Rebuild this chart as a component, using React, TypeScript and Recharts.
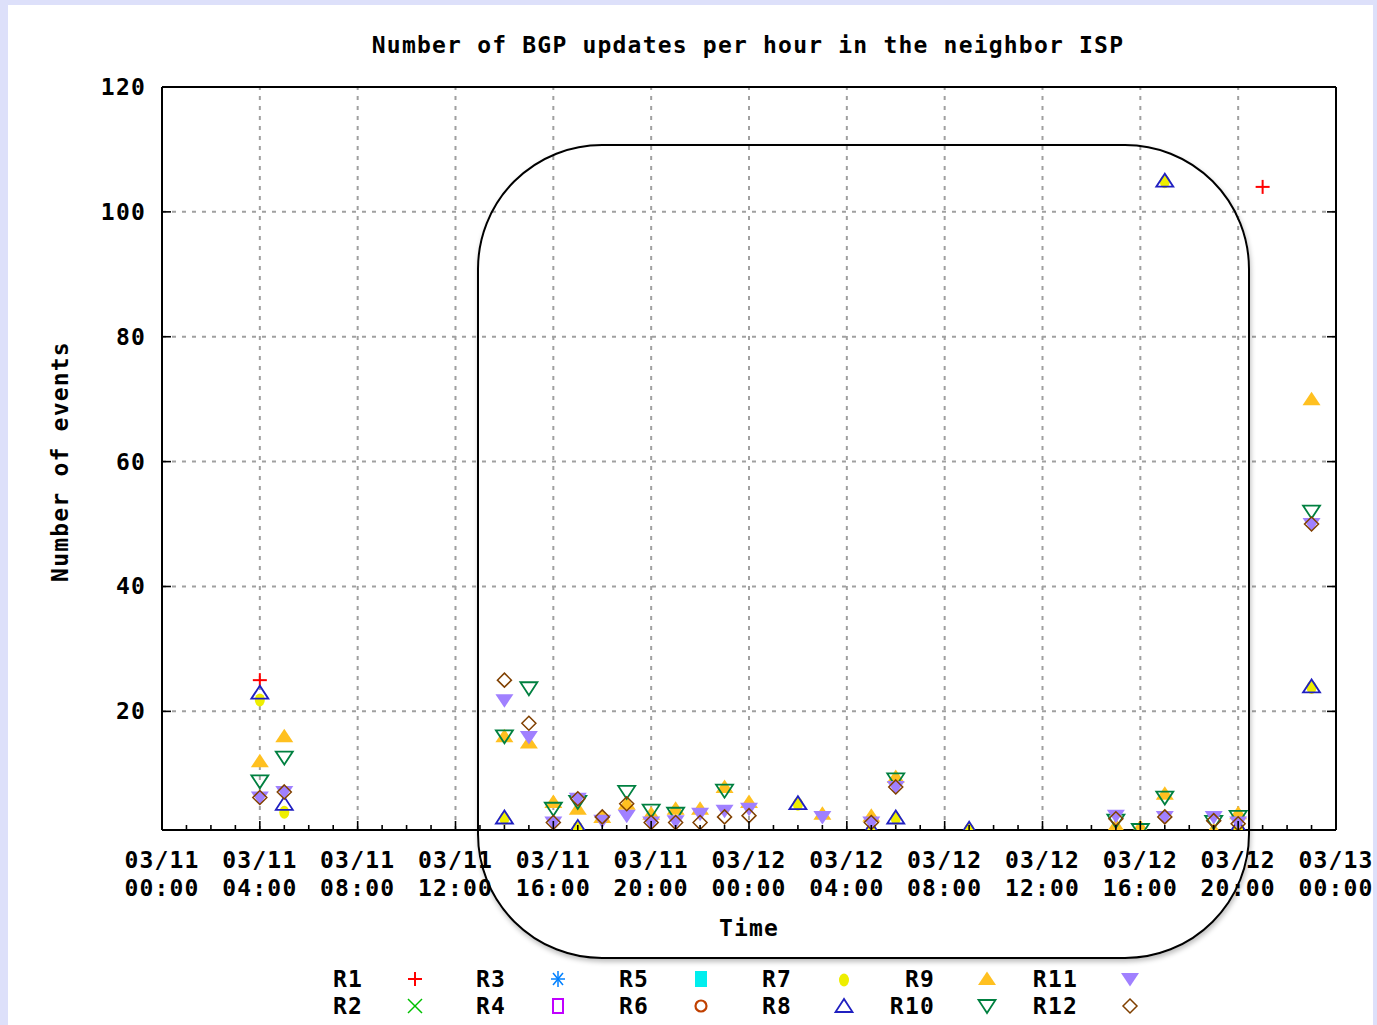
import React from "react";
import {
  ScatterChart,
  Scatter,
  XAxis,
  YAxis,
  ReferenceLine,
  Legend,
} from "recharts";

type Pt = [number, number];

// hour offsets from 03/11 00:00
const HOUR_TICKS = [
  0, 1, 2, 3, 4, 5, 6, 7, 8, 9, 10, 11, 12, 13, 14, 15, 16, 17, 18, 19, 20, 21,
  22, 23, 24, 25, 26, 27, 28, 29, 30, 31, 32, 33, 34, 35, 36, 37, 38, 39, 40,
  41, 42, 43, 44, 45, 46, 47, 48,
];
const GRID_HOURS = [4, 8, 12, 16, 20, 24, 28, 32, 36, 40, 44];
const Y_TICKS = [20, 40, 60, 80, 100, 120];
const GRID_Y = [20, 40, 60, 80, 100];

const R1: Pt[] = [[4, 25], [45, 104]];
const R2: Pt[] = [];
const R3: Pt[] = [];
const R4: Pt[] = [];
const R5: Pt[] = [];
const R6: Pt[] = [];
const R7: Pt[] = [
  [4, 22], [5, 4], [14, 3], [17, 1.5], [26, 5.3], [29, 1.2], [30, 3],
  [33, 1.2], [41, 105], [44, 1.5], [47, 24],
];
const R8: Pt[] = [
  [4, 23], [5, 5.2], [14, 3], [17, 1.5], [26, 5.3], [29, 1.2], [30, 3],
  [33, 1.2], [41, 105], [44, 1.5], [47, 24],
];
const R9: Pt[] = [
  [4, 12], [5, 16], [14, 16], [15, 15], [16, 5.5], [17, 4.4], [18, 3.1],
  [19, 5.2], [20, 3.6], [21, 4.4], [22, 4.4], [23, 7.9], [24, 5.5], [27, 3.6],
  [29, 3.3], [30, 9.5], [39, 1.7], [40, 1.5], [41, 6.8], [43, 1], [44, 3.7],
  [47, 70],
];
const R10: Pt[] = [
  [4, 8.8], [5, 12.6], [14, 16], [15, 23.7], [16, 4.4], [17, 5.5], [19, 7.1],
  [20, 4.1], [21, 3.6], [23, 7.3], [30, 9.1], [39, 2.5], [40, 1], [41, 6.2],
  [43, 2.3], [44, 3.1], [47, 52],
];
const R11: Pt[] = [
  [4, 6.2], [5, 7.1], [14, 21.8], [15, 15.9], [16, 2.2], [17, 6], [18, 2.5],
  [19, 3.3], [20, 2.2], [21, 2.4], [22, 3.6], [23, 4.1], [24, 4.4], [27, 3.1],
  [29, 2.2], [30, 7.9], [39, 3.3], [41, 3.1], [43, 3.1], [44, 2.2], [47, 50],
];
const R12: Pt[] = [
  [4, 6.2], [5, 7.1], [14, 25], [15, 18.1], [16, 2.2], [17, 6], [18, 3.1],
  [19, 5.2], [20, 2.2], [21, 2.2], [22, 2.2], [23, 3.1], [24, 3.3], [29, 2.2],
  [30, 7.9], [39, 2.8], [41, 3.1], [43, 2.5], [44, 2], [47, 50],
];

type Kind =
  | "plus" | "cross" | "star" | "box" | "boxFill" | "circle" | "circleFill"
  | "tri" | "triFill" | "triDown" | "triDownFill" | "diamond";

const SERIES: { name: string; data: Pt[]; color: string; kind: Kind }[] = [
  { name: "R1", data: R1, color: "#ff0000", kind: "plus" },
  { name: "R2", data: R2, color: "#00c000", kind: "cross" },
  { name: "R3", data: R3, color: "#0080ff", kind: "star" },
  { name: "R4", data: R4, color: "#c000ff", kind: "box" },
  { name: "R5", data: R5, color: "#00eeee", kind: "boxFill" },
  { name: "R6", data: R6, color: "#c04000", kind: "circle" },
  { name: "R7", data: R7, color: "#eeee00", kind: "circleFill" },
  { name: "R8", data: R8, color: "#2020c0", kind: "tri" },
  { name: "R9", data: R9, color: "#ffc020", kind: "triFill" },
  { name: "R10", data: R10, color: "#008040", kind: "triDown" },
  { name: "R11", data: R11, color: "#a080ff", kind: "triDownFill" },
  { name: "R12", data: R12, color: "#804000", kind: "diamond" },
];

const FONT = {
  fontFamily: "'DejaVu Sans Mono', monospace",
  fontWeight: 700,
  fontSize: 23,
  letterSpacing: 1.2,
};

const Marker = ({ kind, color, cx, cy }: { kind: Kind; color: string; cx?: number; cy?: number }) => {
  if (cx == null || cy == null) return null;
  const sw = 1.8;
  switch (kind) {
    case "plus":
      return (
        <g stroke={color} strokeWidth={2}>
          <line x1={cx - 7} x2={cx + 7} y1={cy} y2={cy} />
          <line x1={cx} x2={cx} y1={cy - 7} y2={cy + 7} />
        </g>
      );
    case "cross":
      return (
        <g stroke={color} strokeWidth={1.5}>
          <line x1={cx - 7} x2={cx + 7} y1={cy - 7} y2={cy + 7} />
          <line x1={cx - 7} x2={cx + 7} y1={cy + 7} y2={cy - 7} />
        </g>
      );
    case "star":
      return (
        <g stroke={color} strokeWidth={1.5}>
          <line x1={cx - 7} x2={cx + 7} y1={cy} y2={cy} />
          <line x1={cx} x2={cx} y1={cy - 8} y2={cy + 8} />
          <line x1={cx - 5} x2={cx + 5} y1={cy - 6} y2={cy + 6} />
          <line x1={cx - 5} x2={cx + 5} y1={cy + 6} y2={cy - 6} />
        </g>
      );
    case "box":
      return <rect x={cx - 5} y={cy - 7} width={10} height={14} fill="none" stroke={color} strokeWidth={2} />;
    case "boxFill":
      return <rect x={cx - 6} y={cy - 8} width={12} height={16} fill={color} />;
    case "circle":
      return <circle cx={cx} cy={cy} r={5.5} fill="none" stroke={color} strokeWidth={2.2} />;
    case "circleFill":
      return <ellipse cx={cx} cy={cy + 1} rx={5} ry={6.5} fill={color} />;
    case "tri":
      return (
        <polygon
          points={`${cx},${cy - 7} ${cx - 8.5},${cy + 6} ${cx + 8.5},${cy + 6}`}
          fill="none" stroke={color} strokeWidth={sw}
        />
      );
    case "triFill":
      return <polygon points={`${cx},${cy - 7.5} ${cx - 9},${cy + 6} ${cx + 9},${cy + 6}`} fill={color} />;
    case "triDown":
      return (
        <polygon
          points={`${cx},${cy + 7} ${cx - 8.5},${cy - 6} ${cx + 8.5},${cy - 6}`}
          fill="none" stroke={color} strokeWidth={sw}
        />
      );
    case "triDownFill":
      return <polygon points={`${cx},${cy + 7.5} ${cx - 9},${cy - 6} ${cx + 9},${cy - 6}`} fill={color} />;
    case "diamond":
      return (
        <polygon
          points={`${cx},${cy - 7} ${cx + 7},${cy} ${cx},${cy + 7} ${cx - 7},${cy}`}
          fill="none" stroke={color} strokeWidth={1.5}
        />
      );
  }
  return null;
};

const hourLabel = (h: number) => {
  const day = 11 + Math.floor(h / 24);
  const hh = String(h % 24).padStart(2, "0");
  return [`03/${day}`, `${hh}:00`];
};

const BottomTick = (p: any) => {
  const h = p.payload.value;
  const major = h % 4 === 0;
  const [d, t] = hourLabel(h);
  return (
    <g>
      <line x1={p.x} x2={p.x} y1={p.y} y2={p.y - (major ? 9 : 5)} stroke="#000" strokeWidth={1.6} />
      {major && (
        <text {...FONT} x={p.x} y={p.y} textAnchor="middle" fill="#000">
          <tspan x={p.x} dy={38}>{d}</tspan>
          <tspan x={p.x} dy={28}>{t}</tspan>
        </text>
      )}
    </g>
  );
};

const TopTick = (p: any) => {
  const major = p.payload.value % 4 === 0;
  return <line x1={p.x} x2={p.x} y1={p.y} y2={p.y + (major ? 9 : 5)} stroke="#000" strokeWidth={1.6} />;
};

const LeftTick = (p: any) => (
  <g>
    <line x1={p.x} x2={p.x + 9} y1={p.y} y2={p.y} stroke="#000" strokeWidth={1.6} />
    <text {...FONT} x={p.x - 16} y={p.y} dy={8} textAnchor="end" fill="#000">
      {p.payload.value}
    </text>
  </g>
);

const RightTick = (p: any) => (
  <line x1={p.x} x2={p.x - 9} y1={p.y} y2={p.y} stroke="#000" strokeWidth={1.6} />
);

const TimeLabel = ({ viewBox }: any) => (
  <text {...FONT} x={viewBox.x + viewBox.width / 2} y={viewBox.y + 106} textAnchor="middle" fill="#000">
    Time
  </text>
);

const EventsLabel = ({ viewBox }: any) => {
  const x = viewBox.x + 6;
  const y = viewBox.y + viewBox.height / 2 + 3;
  return (
    <text {...FONT} x={x} y={y} textAnchor="middle" fill="#000" transform={`rotate(-90 ${x} ${y})`}>
      Number of events
    </text>
  );
};

const KeyGrid = () => (
  <svg width={1377} height={62} style={{ display: "block" }}>
    {SERIES.map((s, i) => {
      const col = Math.floor(i / 2);
      const y = i % 2 === 0 ? 19 : 46;
      return (
        <g key={s.name}>
          <text {...FONT} x={363 + col * 143} y={y + 8} textAnchor="end" fill="#000">
            {s.name}
          </text>
          <Marker kind={s.kind} color={s.color} cx={415 + col * 143} cy={y} />
        </g>
      );
    })}
  </svg>
);

export default function App() {
  return (
    <div
      style={{
        position: "fixed",
        left: 0,
        top: 0,
        width: 1377,
        height: 1025,
        background: "#dde0fa",
        overflow: "hidden",
      }}
    >
      <div style={{ position: "absolute", left: 8, top: 5, width: 1365, height: 1030, background: "#fff" }} />
      <div
        style={{
          ...FONT,
          position: "absolute",
          left: 748,
          top: 31,
          transform: "translateX(-50%)",
          whiteSpace: "nowrap",
          lineHeight: "28px",
          color: "#000",
        }}
      >
        Number of BGP updates per hour in the neighbor ISP
      </div>
      <div style={{ position: "absolute", left: 0, top: 0 }}>
        <ScatterChart width={1377} height={1025} margin={{ top: 86, right: 40, bottom: 85, left: 62 }}>
          <XAxis
            xAxisId="bottom"
            dataKey="h"
            type="number"
            domain={[0, 48]}
            ticks={HOUR_TICKS}
            interval={0}
            height={110}
            tickSize={0}
            tickMargin={0}
            tickLine={false}
            tick={BottomTick}
            axisLine={{ stroke: "#000", strokeWidth: 2 }}
            label={{ content: TimeLabel }}
            allowDataOverflow
          />
          <XAxis
            xAxisId="top"
            orientation="top"
            type="number"
            domain={[0, 48]}
            ticks={HOUR_TICKS}
            interval={0}
            height={1}
            tickSize={0}
            tickMargin={0}
            tickLine={false}
            tick={TopTick}
            axisLine={{ stroke: "#000", strokeWidth: 2 }}
            allowDataOverflow
          />
          <YAxis
            yAxisId="left"
            dataKey="v"
            type="number"
            domain={[1, 120]}
            ticks={Y_TICKS}
            interval={0}
            width={100}
            tickSize={0}
            tickMargin={0}
            tickLine={false}
            tick={LeftTick}
            axisLine={{ stroke: "#000", strokeWidth: 2 }}
            label={{ content: EventsLabel }}
            allowDataOverflow
          />
          <YAxis
            yAxisId="right"
            orientation="right"
            type="number"
            domain={[1, 120]}
            ticks={Y_TICKS}
            interval={0}
            width={1}
            tickSize={0}
            tickMargin={0}
            tickLine={false}
            tick={RightTick}
            axisLine={{ stroke: "#000", strokeWidth: 2 }}
            allowDataOverflow
          />
          {GRID_HOURS.map((h) => (
            <ReferenceLine
              key={`gx${h}`}
              xAxisId="bottom"
              yAxisId="left"
              x={h}
              stroke="#a0a0a0"
              strokeWidth={2}
              strokeDasharray="4 6"
            />
          ))}
          {GRID_Y.map((v) => (
            <ReferenceLine
              key={`gy${v}`}
              xAxisId="bottom"
              yAxisId="left"
              y={v}
              stroke="#a0a0a0"
              strokeWidth={2}
              strokeDasharray="4 6"
            />
          ))}
          {SERIES.map((s) => (
            <Scatter
              key={s.name}
              name={s.name}
              xAxisId="bottom"
              yAxisId="left"
              data={s.data.map(([h, v]) => ({ h, v }))}
              isAnimationActive={false}
              shape={(p: any) => <Marker kind={s.kind} color={s.color} cx={p.cx} cy={p.cy} />}
            />
          ))}
          <Legend
            layout="horizontal"
            verticalAlign="middle"
            align="center"
            wrapperStyle={{ position: "absolute", top: 960, left: 0, width: 1377, height: 62 }}
            content={() => <KeyGrid />}
          />
        </ScatterChart>
      </div>
      <div
        style={{
          position: "absolute",
          left: 477,
          top: 144,
          width: 769,
          height: 811,
          border: "2px solid #000",
          borderRadius: 125,
          boxShadow: "1px 3px 5px rgba(0,0,0,0.25)",
          pointerEvents: "none",
        }}
      />
    </div>
  );
}
